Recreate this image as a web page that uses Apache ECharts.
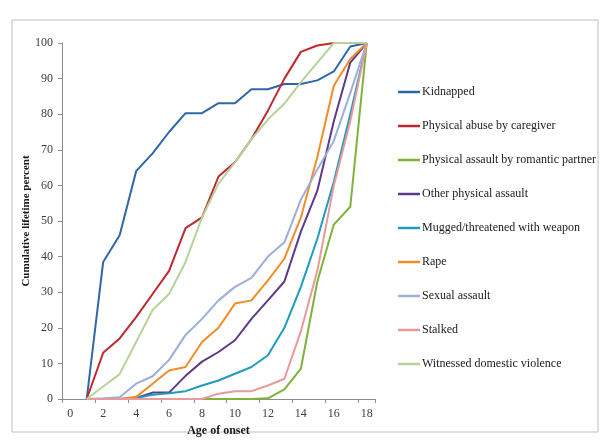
<!DOCTYPE html>
<html>
<head>
<meta charset="utf-8">
<script src="https://cdn.jsdelivr.net/npm/echarts@6/dist/echarts.min.js"></script>
<style>
html,body{margin:0;padding:0;background:#fff;}
#chart{width:610px;height:446px;}
</style>
</head>
<body>
<div id="chart"></div>
<script>
const ages = ['0','1','2','3','4','5','6','7','8','9','10','11','12','13','14','15','16','17','18'];
const yTicks = [0,10,20,30,40,50,60,70,80,90,100];

const seriesNames = [
  'Kidnapped',
  'Physical abuse by caregiver',
  'Physical assault by romantic partner',
  'Other physical assault',
  'Mugged/threatened with weapon',
  'Rape',
  'Sexual assault',
  'Stalked',
  'Witnessed domestic violence'
];

const kidnapped   = [null,0,38.5,46,64,69,75,80.3,80.3,83.1,83.1,87,87,88.5,88.5,89.5,92,99,100];
const caregiver   = [null,0,13,17,23,29.5,36,48,51,62.5,66.5,73,81,90,97.5,99.3,100,100,100];
const romantic    = [null,0,0,0,0,0,0,0,0,0,0,0,0.2,2.7,8.5,33,49,54,100];
const otherAssault= [null,0,0,0,0.3,1.8,1.8,6.5,10.5,13.2,16.5,22.5,27.7,33,47,58.5,78,94.5,100];
const mugged      = [null,0,0,0,0.3,1.2,1.6,2.2,3.8,5.2,7.1,9,12.3,20,31.5,45,61,80,100];
const rape        = [null,0,0,0,0.6,4.3,8,9,16,20,26.8,27.7,33.3,39.4,51,68,88,95.5,100];
const sexual      = [null,0,0.2,0.5,4.3,6.4,11,18,22.5,27.7,31.5,34,40,44,56,64.5,72.5,86,100];
const stalked     = [null,0,0,0,0,0,0,0,0,1.5,2.2,2.2,3.8,5.7,19,36,60,78,100];
const witnessed   = [null,0,3.5,7,16,25,29.5,38.5,51,60.5,66.5,73,78.5,83,89,94.5,100,100,100];

const values = [kidnapped, caregiver, romantic, otherAssault, mugged, rape, sexual, stalked, witnessed];
const colors = ['#2E67A8','#C0282D','#7DB33B','#5C3A8A','#1E9BBF','#F28C28','#9DAEDB','#E8999B','#B5D39A'];

const serif = '"Liberation Serif", "DejaVu Serif", serif';

const chart = echarts.init(document.getElementById('chart'), null, {renderer:'canvas'});
chart.setOption({
  backgroundColor: '#ffffff',
  animation: false,
  color: colors,
  graphic: [{
    type: 'rect',
    shape: {x: 12, y: 20, width: 586, height: 412},
    style: {fill: 'none', stroke: '#bfbfbf', lineWidth: 1},
    silent: true
  }],
  grid: {left: 62, right: 235, top: 43, bottom: 47, containLabel: false},
  legend: {
    orient: 'vertical',
    left: 398,
    top: 86,
    padding: 0,
    icon: 'rect',
    itemWidth: 22,
    itemHeight: 2.5,
    itemGap: 22,
    textStyle: {fontFamily: serif, fontSize: 12, color: '#1a1a1a', padding: [0,0,0,-3]},
    data: seriesNames
  },
  xAxis: {
    type: 'category',
    data: ages,
    boundaryGap: true,
    name: 'Age of onset',
    nameLocation: 'middle',
    nameGap: 25,
    nameTextStyle: {fontFamily: serif, fontSize: 12, fontWeight: 'bold', color: '#1a1a1a'},
    axisLine: {lineStyle: {color: '#8c8c8c', width: 1}},
    axisTick: {show: true, interval: 1, length: 4, lineStyle: {color: '#8c8c8c'}},
    axisLabel: {interval: 1, margin: 9, fontFamily: serif, fontSize: 12, color: '#404040'},
    splitLine: {show: false}
  },
  yAxis: {
    type: 'value',
    min: 0,
    max: 100,
    interval: 10,
    name: 'Cumulative lifetime percent',
    nameLocation: 'middle',
    nameGap: 30,
    nameMoveOverlap: false,
    nameRotate: 90,
    nameTextStyle: {fontFamily: serif, fontSize: 11, fontWeight: 'bold', color: '#1a1a1a'},
    axisLine: {show: true, lineStyle: {color: '#8c8c8c', width: 1}},
    axisTick: {show: true, length: 4, lineStyle: {color: '#8c8c8c'}},
    axisLabel: {margin: 9, fontFamily: serif, fontSize: 12, color: '#404040',
      formatter: function(v){ return yTicks.indexOf(v) >= 0 ? String(v) : ''; }},
    splitLine: {show: false}
  },
  series: seriesNames.map(function(n, i){
    return {
      name: n,
      type: 'line',
      data: values[i],
      symbol: 'none',
      connectNulls: false,
      lineStyle: {width: 2, color: colors[i]},
      itemStyle: {color: colors[i]}
    };
  })
});
</script>
</body>
</html>
